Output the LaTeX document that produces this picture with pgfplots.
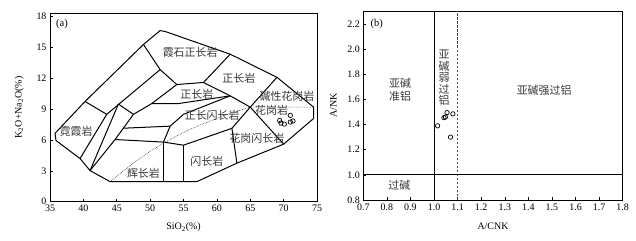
\documentclass[border=0pt]{standalone}
\usepackage{pgfplots}
\pgfplotsset{compat=1.18}
\usepackage{fontspec}
\setmainfont{Liberation Serif}
\newfontfamily\cjk{Noto Sans CJK SC}
\begin{document}
\begin{tikzpicture}[x=1bp,y=1bp]
\useasboundingbox (0,0) rectangle (636,240);
\pgfplotsset{
  myax/.style={
    scale only axis, anchor=south west,
    tick align=inside, xtick pos=bottom, ytick pos=left,
    major tick length=3bp, minor tick length=0pt,
    axis line style={line width=0.7bp},
    every tick/.style={black, line width=0.6bp},
    tick label style={font=\fontsize{10}{12}\selectfont},
    /pgf/number format/assume math mode=true,
    label style={font=\fontsize{10}{12}\selectfont},
  },
}
\tikzset{lab/.style={font=\cjk\fontsize{11}{12}\selectfont, text=black!78, inner sep=0pt}}
% ---------------- panel (a) ----------------
\begin{axis}[myax,
  at={(50bp,38.3bp)}, width=267bp, height=188.4bp,
  xmin=35, xmax=75, ymin=0, ymax=18.33,
  xtick={35,40,...,75}, ytick={0,3,...,18},
  xlabel={SiO\textsubscript{2}(\%)}, ylabel={K\textsubscript{2}O+Na\textsubscript{2}O(\%)},
  xlabel style={at={(axis description cs:0.5,-0.135)}, anchor=center},
  ylabel style={at={(axis description cs:-0.115,0.5)}, anchor=center},
]
% outer boundary
\addplot[black, line width=1bp, mark=none] coordinates {
 (35.75,6.65) (35.9,5.95) (39.5,4.2) (41,3.03) (44,1.95) (57,1.95) (63,3.75) (70,5.6)
 (74.5,8.1) (74.5,9.2) (69,12.1) (62,14.35) (52.3,16.55) (51.5,16.65) (49,15.3) (40.25,9.75) (35.75,6.65)};
% internal boundaries
\addplot[black, line width=1bp, mark=none] coordinates {(40.25,9.75) (43.5,8.5) (39.5,4.2)};
\addplot[black, line width=1bp, mark=none] coordinates {(43.5,8.5) (51.5,12.85)};
\addplot[black, line width=1bp, mark=none] coordinates {(49,15.3) (51.5,12.85) (54,11.4) (58,11.6) (62,14.35)};
\addplot[black, line width=1bp, mark=none] coordinates {(41,3.03) (45.25,9.5)};
\addplot[black, line width=1bp, mark=none] coordinates {(45.25,9.5) (47.5,8.5) (50.25,9.55) (54,11.4)};
\addplot[black, line width=1bp, mark=none] coordinates {(47.5,8.5) (44.75,6.05) (41,3.03)};
\addplot[black, line width=1bp, mark=none] coordinates {(44.75,6.05) (52,5.8) (55,5.5) (62.25,7.14) (65,9.2)};
\addplot[black, line width=1bp, mark=none] coordinates {(46.0,7.15) (53,7.35)};
\addplot[black, line width=1bp, mark=none] coordinates {(52,5.8) (53,7.35) (55,8.5) (62,10.3)};
\addplot[black, line width=1bp, mark=none] coordinates {(50.25,9.55) (54.25,9.55) (62,10.3)};
\addplot[black, line width=1bp, mark=none] coordinates {(58,11.6) (62,10.3) (65,9.2) (69,12.1)};
\addplot[black, line width=1bp, mark=none] coordinates {(65,9.2) (70,5.6)};
\addplot[black, line width=1bp, mark=none] coordinates {(62.25,7.14) (63,3.75)};
\addplot[black, line width=1bp, mark=none] coordinates {(52,5.8) (52,1.95)};
\addplot[black, line width=1bp, mark=none] coordinates {(55,5.5) (55,1.95)};
% alkaline / subalkaline dotted line
\addplot[black!80, line width=0.6bp, densely dotted, mark=none] coordinates {
 (44,1.95) (46,3.0) (48,4.0) (50,4.9) (52,5.7) (54,6.4) (56,7.05) (58,7.6) (60,8.1) (62,8.6) (65,9.2) (74.5,9.2)};
% samples
\addplot[only marks, mark=o, mark size=2.2bp, mark options={black, line width=0.7bp}] coordinates {
 (69.4,7.9) (69.6,7.65) (70.1,7.55) (71.0,7.75) (71.4,7.85) (71.0,8.4)};
% labels
\node[lab] at (axis cs:56,14.5) {霞石正长岩};
\node[lab] at (axis cs:63.3,12.0) {正长岩};
\node[lab] at (axis cs:70.5,10.25) {碱性花岗岩};
\node[lab] at (axis cs:68.2,8.9) {花岗岩};
\node[lab] at (axis cs:57,10.45) {正长岩};
\node[lab] at (axis cs:59.3,8.45) {正长闪长岩};
\node[lab] at (axis cs:66,6.2) {花岗闪长岩};
\node[lab] at (axis cs:58.5,3.9) {闪长岩};
\node[lab] at (axis cs:49,2.8) {辉长岩};
\node[lab] at (axis cs:38.9,6.85) {霓霞岩};
\node[font=\fontsize{10.5}{12}\selectfont, inner sep=0pt] at (axis cs:36.8,17.3) {(a)};
\end{axis}
% ---------------- panel (b) ----------------
\begin{axis}[myax,
  at={(363.3bp,40bp)}, width=259.4bp, height=188.6bp,
  xmin=0.7, xmax=1.8, ymin=0.8, ymax=2.3,
  xtick={0.7,0.8,...,1.81}, ytick={0.8,1.0,...,2.21},
  xticklabel style={/pgf/number format/.cd, fixed, fixed zerofill, precision=1},
  yticklabel style={/pgf/number format/.cd, fixed, fixed zerofill, precision=1},
  xlabel={A/CNK}, ylabel={A/NK},
  xlabel style={at={(axis description cs:0.5,-0.14)}, anchor=center},
  ylabel style={at={(axis description cs:-0.115,0.5)}, anchor=center},
]
\addplot[black, line width=0.8bp, mark=none] coordinates {(1.0,0.8) (1.0,2.3)};
\addplot[black!70, line width=0.9bp, dashed, dash pattern=on 2.5bp off 1.5bp, mark=none] coordinates {(1.1,0.8) (1.1,2.3)};
\addplot[black, line width=0.8bp, mark=none] coordinates {(0.7,1.0) (1.8,1.0)};
\addplot[only marks, mark=o, mark size=2.2bp, mark options={black, line width=0.7bp}] coordinates {
 (1.015,1.39) (1.042,1.455) (1.048,1.46) (1.055,1.495) (1.08,1.485) (1.07,1.30)};
\node[lab, align=center, font=\cjk\fontsize{11}{13.5}\selectfont] at (axis cs:0.856,1.675) {亚碱\\准铝};
\node[lab, align=center, font=\cjk\fontsize{11}{11.5}\selectfont] at (axis cs:1.043,1.77) {亚\\碱\\弱\\过\\铝};
\node[lab] at (axis cs:1.467,1.675) {亚碱强过铝};
\node[lab] at (axis cs:0.853,0.915) {过碱};
\node[font=\fontsize{10.5}{12}\selectfont, inner sep=0pt] at (axis cs:0.757,2.2) {(b)};
\end{axis}
\end{tikzpicture}
\end{document}
